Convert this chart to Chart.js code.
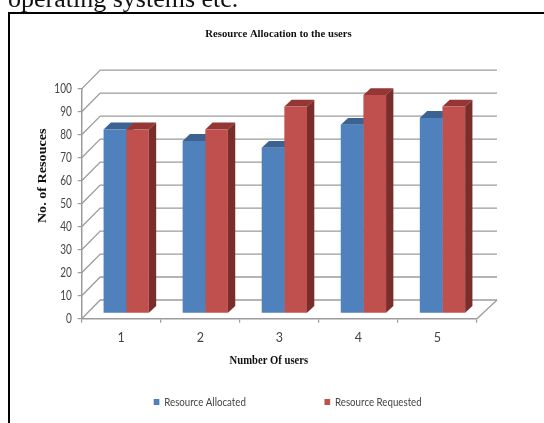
<!DOCTYPE html>
<html><head><meta charset="utf-8">
<style>
html,body{margin:0;padding:0;background:#fff;width:544px;height:423px;overflow:hidden}
#wrap{position:relative;width:544px;height:423px;filter:blur(.35px)}
#head{position:absolute;left:8px;top:-16px;font:26px "Liberation Serif",serif;color:#111;white-space:nowrap}
#frame{position:absolute;left:8px;top:12px;width:536px;height:411px;border-left:2px solid #000;border-top:2px solid #000;box-sizing:border-box}
#c{position:absolute;left:0;top:0}
</style></head><body>
<div id="wrap">
<div id="head">operating systems etc.</div>
<div id="frame"></div>
<canvas id="c" width="544" height="423"></canvas>
</div>
<script src="https://cdn.jsdelivr.net/npm/chart.js@4"></script>
<script>
const categories=["1","2","3","4","5"];
const allocated=[80,75,72,82,85];
const requested=[80,80,90,95,90];
const titleText="Resource Allocation to the users";
const xTitle="Number Of users";
const yTitle="No. of Resouces";
const seriesNames=["Resource Allocated","Resource Requested"];
const frontColors=["#4F81BD","#C0504D"];
const topColors=["#3A6391","#933634"];
const sideColors=["#2F5078","#7A2E2C"];
const wallDX=18.5,wallDXR=20,wallDY=18.7,barDX=5,barDY=5.4,depthDX=7.3,depthDY=6.8;
const gray="#9C9C9C";

// wraps one drawing method of a chart box in a transform: the squeezed type of the reference
function squeeze(obj,method,cx,cy,sx,sy,dx,dy){
 const orig=obj[method];
 obj[method]=function(...a){
  const c=this.ctx;c.save();
  c.translate(cx+dx,cy+dy);c.scale(sx,sy);c.translate(-cx,-cy);
  const r=orig.apply(this,a);c.restore();return r;
 };
}
const depth={
 id:"depth",
 beforeLayout(chart){
  const lg=chart.legend;
  if(lg&&!lg._wrapped){
   lg._wrapped=true;
   const f=lg.fit.bind(lg);
   lg.fit=function(){this.maxWidth=900;f();this.height=30;};
  }
 },
 beforeDraw(chart){
  const lg=chart.legend,{x,y}=chart.scales;
  lg.top=402-97-6;
  lg.left=153.7-97;
  lg.right=1200;
  squeeze(lg,"draw",153.7,0,.81,1,0,0);
  const tb=chart.titleBlock;
  tb.left=58;tb.right=499;tb.top+=1;tb.bottom+=1;
  squeeze(x,"drawTitle",(x.left+x.right)/2,358,.85,1,-10.5,2);
  squeeze(y,"drawTitle",42,(y.top+y.bottom)/2,1,1.23,0,-28);
  squeeze(y,"drawLabels",72,0,.8,1,0,0);
 },
 beforeDatasetsDraw(chart){
  const {ctx,scales:{x,y}}=chart;
  const l=x.left,r=x.right;
  ctx.save();
  ctx.strokeStyle=gray;ctx.lineWidth=1.3;
  y.ticks.forEach(t=>{
   const p=y.getPixelForValue(t.value);
   ctx.beginPath();
   ctx.moveTo(l,p);ctx.lineTo(l+wallDX,p-wallDY);ctx.lineTo(r+wallDXR,p-wallDY);
   ctx.stroke();
  });
  const b=y.getPixelForValue(0);
  ctx.beginPath();ctx.moveTo(r,b);ctx.lineTo(r+wallDXR,b-wallDY);ctx.stroke();
  chart.data.datasets.forEach((ds,di)=>{
   chart.getDatasetMeta(di).data.forEach(el=>{
    const p=el.getProps(["x","y","base","width"],true);
    const L=p.x-p.width/2+barDX,R=p.x+p.width/2+barDX,T=p.y-barDY,B=p.base-barDY;
    ctx.fillStyle=topColors[di];
    ctx.beginPath();ctx.moveTo(L,T);ctx.lineTo(L+depthDX,T-depthDY);ctx.lineTo(R+depthDX,T-depthDY);ctx.lineTo(R,T);ctx.closePath();ctx.fill();
    ctx.fillStyle=sideColors[di];
    ctx.beginPath();ctx.moveTo(R,T);ctx.lineTo(R+depthDX,T-depthDY);ctx.lineTo(R+depthDX,B-depthDY);ctx.lineTo(R,B);ctx.closePath();ctx.fill();
   });
  });
  ctx.restore();
  ctx.save();
  ctx.translate(barDX,-barDY);
 },
 afterDatasetsDraw(chart){chart.ctx.restore();}
};

const serifBold=s=>({family:'"Liberation Serif",serif',size:s,weight:"bold"});
const sans={family:'Lato,sans-serif',size:12.5};
new Chart(document.getElementById("c"),{
 type:"bar",
 data:{labels:categories,datasets:[
  {label:seriesNames[0],data:allocated,backgroundColor:frontColors[0],borderWidth:0,clip:false},
  {label:seriesNames[1],data:requested,backgroundColor:frontColors[1],borderWidth:0,clip:false}
 ]},
 plugins:[depth],
 options:{
  responsive:false,animation:false,
  categoryPercentage:.573,barPercentage:1,
  layout:{padding:{left:36,right:67,top:0,bottom:0}},
  plugins:{
   tooltip:{enabled:false},
   title:{display:true,text:titleText,color:"#111",font:serifBold(10.7),padding:{top:27,bottom:49}},
   legend:{position:"bottom",align:"start",labels:{boxWidth:7,boxHeight:6,padding:97,color:"#444",font:{family:sans.family,size:12},useBorderRadius:false}}
  },
  scales:{
   x:{
    afterFit(s){s.height=74.3;},
    grid:{drawOnChartArea:false,color:gray,tickColor:gray,tickLength:4,lineWidth:1.2},
    border:{color:gray,width:1.5},
    ticks:{color:"#444",font:sans,padding:8,maxRotation:0},
    title:{display:true,text:xTitle,color:"#111",font:serifBold(12.5),padding:{top:0,bottom:27}}
   },
   y:{
    min:0,max:100,
    afterFit(s){s.width=45.7;},
    grid:{drawOnChartArea:false,color:gray,tickColor:gray,tickLength:4,lineWidth:1.2},
    border:{color:gray,width:1.5},
    ticks:{stepSize:10,color:"#444",font:sans,padding:6},
    title:{display:true,text:yTitle,color:"#111",font:serifBold(11.5),padding:{top:0,bottom:0}}
   }
  }
 }
});
</script>
</body></html>
